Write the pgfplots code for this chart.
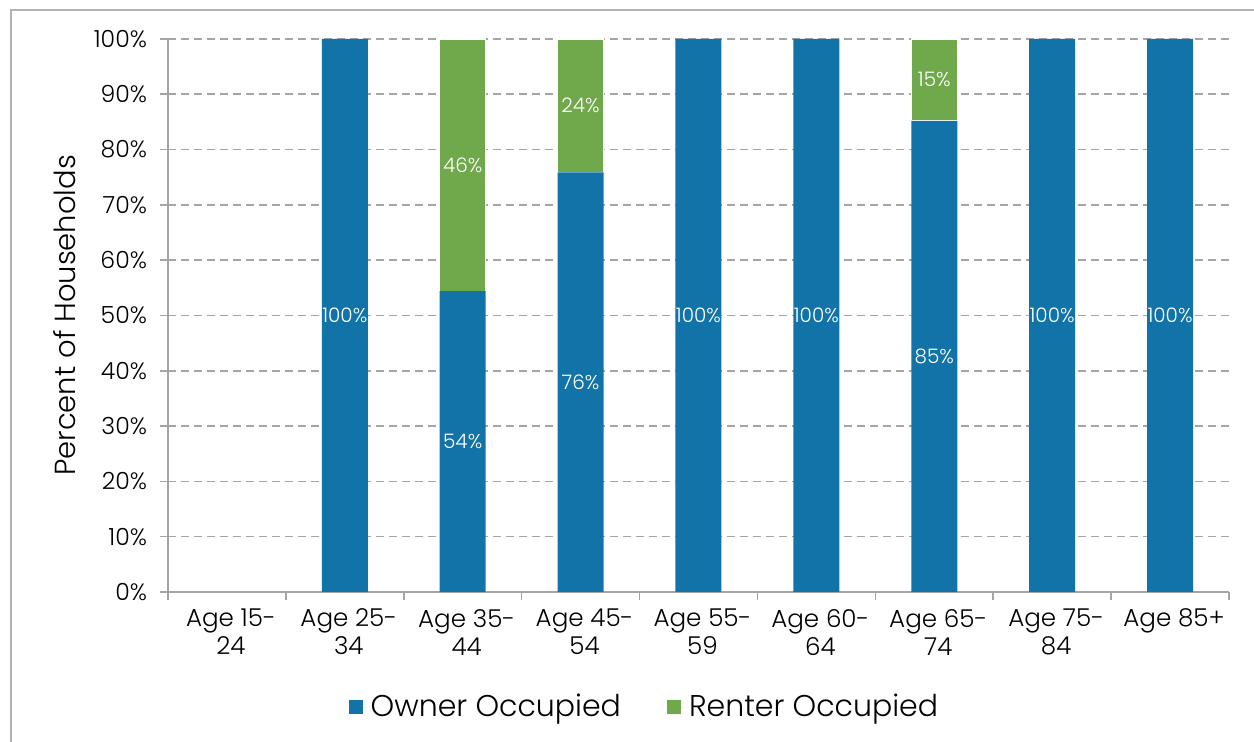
\documentclass[border=0pt]{standalone}
\usepackage{fontspec}
\setmainfont{Poppins}[UprightFont=* Light]
\usepackage{pgfplots}
\pgfplotsset{compat=1.18}
\definecolor{owner}{RGB}{17,115,168}
\definecolor{renter}{RGB}{112,168,76}
\definecolor{gridgray}{RGB}{165,165,165}
\begin{document}
\begin{tikzpicture}
\useasboundingbox (0,0) rectangle (627pt,371pt);
\draw[gray!60, line width=0.9pt] (5.5pt,0) -- (5.5pt,366pt) -- (627pt,366pt);
\begin{axis}[
  at={(84pt,75pt)}, anchor=south west,
  scale only axis, width=530.5pt, height=276.5pt,
  ybar stacked, bar width=23pt,
  xmin=-0.5, xmax=8.5, ymin=0, ymax=100,
  axis x line*=bottom, axis y line*=left,
  axis line style={gridgray, line width=0.8pt},
  xtick={0,...,8},
  xticklabels={{Age 15-\\24},{Age 25-\\34},{Age 35-\\44},{Age 45-\\54},{Age 55-\\59},{Age 60-\\64},{Age 65-\\74},{Age 75-\\84},{Age 85+}},
  major x tick style={draw=none},
  minor xtick={-0.5,0.5,...,8.5},
  minor x tick style={gridgray, line width=0.8pt},
  minor tick length=4pt,
  ytick={0,10,...,100},
  yticklabels={0\%,10\%,20\%,30\%,40\%,50\%,60\%,70\%,80\%,90\%,100\%},
  ytick style={gridgray, line width=0.8pt},
  major tick length=4pt,
  tick align=outside,
  ymajorgrids,
  major grid style={gridgray, line width=0.8pt, dash pattern=on 4pt off 2.5pt},
  xticklabel style={align=center, font=\fontsize{12.3}{14}\selectfont, yshift=-1pt, xshift=2pt},
  yticklabel style={font=\fontsize{11.8}{13}\selectfont, xshift=-3pt},
  ylabel={Percent of Households},
  ylabel style={at={(axis description cs:-0.097,0.5)}, anchor=center, font=\fontsize{14.5}{16}\selectfont},
  legend style={at={(0.450,-0.208)}, anchor=center, draw=none, legend columns=2,
    font=\fontsize{15}{17}\selectfont,
    /tikz/every even column/.append style={column sep=21pt}},
  legend image code/.code={\fill[#1, draw=none] (0pt,-3.5pt) rectangle (7pt,3.5pt); \path[draw=none] (0pt,0pt) -- (9pt,0pt);},
  nodes near coords, point meta=explicit symbolic,
  every node near coord/.append style={text=white, font=\fontsize{10}{12}\selectfont},
]
\addplot[fill=owner, draw=none] coordinates {(0,0)[{}] (1,100)[100\%] (2,54.4)[54\%] (3,75.9)[76\%] (4,100)[100\%] (5,100)[100\%] (6,85.2)[85\%] (7,100)[100\%] (8,100)[100\%]};
\addplot[fill=renter, draw=white, line width=0.6pt] coordinates {(0,0)[{}] (1,0)[{}] (2,45.6)[46\%] (3,24.1)[24\%] (4,0)[{}] (5,0)[{}] (6,14.8)[15\%] (7,0)[{}] (8,0)[{}]};
\legend{Owner Occupied, Renter Occupied}
\end{axis}
\end{tikzpicture}
\end{document}
